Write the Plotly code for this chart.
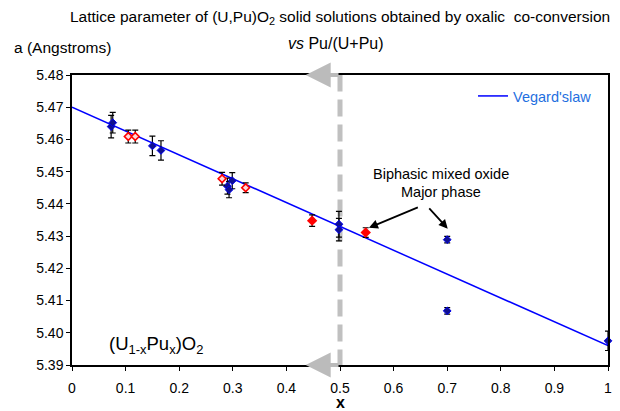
import plotly.graph_objects as go

# Data
vegard_x = [0.0, 1.0]
vegard_y = [5.470, 5.396]

blue_x = [0.073, 0.076, 0.150, 0.166, 0.290, 0.293, 0.299, 0.498, 0.498, 0.700, 0.700, 1.000]
blue_y = [5.4640, 5.4652, 5.4580, 5.4566, 5.4455, 5.4444, 5.4472, 5.4337, 5.4320, 5.4289, 5.4068, 5.3975]
blue_err = [0.0035, 0.0032, 0.0030, 0.0030, 0.0025, 0.0025, 0.0025, 0.0040, 0.0035, 0.0010, 0.0010, 0.0030]

red_open_x = [0.105, 0.118, 0.280, 0.324]
red_open_y = [5.4609, 5.4609, 5.4478, 5.4450]
red_open_err = [0.0020, 0.0020, 0.0020, 0.0015]

red_fill_x = [0.448, 0.548]
red_fill_y = [5.4348, 5.4311]
red_fill_err = [0.0018, 0.0015]

x_ticks = [0, 0.1, 0.2, 0.3, 0.4, 0.5, 0.6, 0.7, 0.8, 0.9, 1]
x_tick_text = ["0", "0.1", "0.2", "0.3", "0.4", "0.5", "0.6", "0.7", "0.8", "0.9", "1"]
y_ticks = [5.39, 5.40, 5.41, 5.42, 5.43, 5.44, 5.45, 5.46, 5.47, 5.48]

FONT = "Liberation Sans, Arial, sans-serif"

fig = go.Figure()

fig.add_trace(go.Scatter(
    x=vegard_x, y=vegard_y, mode="lines", name="Vegard'slaw",
    line=dict(color="#0000ff", width=1.5), showlegend=True))

fig.add_trace(go.Scatter(
    x=blue_x, y=blue_y, mode="markers", showlegend=False,
    marker=dict(symbol="diamond", size=6, color="#101090", line=dict(color="#0000ee", width=1)),
    error_y=dict(type="data", array=blue_err, color="black", thickness=1.2, width=3),
    cliponaxis=False))

fig.add_trace(go.Scatter(
    x=red_open_x, y=red_open_y, mode="markers", showlegend=False,
    marker=dict(symbol="diamond", size=6, color="#ffd8d8", line=dict(color="#ff0000", width=1.6)),
    error_y=dict(type="data", array=red_open_err, color="black", thickness=1.2, width=3),
    cliponaxis=False))

fig.add_trace(go.Scatter(
    x=red_fill_x, y=red_fill_y, mode="markers", showlegend=False,
    marker=dict(symbol="diamond", size=8, color="#ff0000", line=dict(color="#ff0000", width=0)),
    error_y=dict(type="data", array=red_fill_err, color="black", thickness=1.2, width=3),
    cliponaxis=False))

# Vertical dashed gray line at x = 0.5
fig.add_shape(type="line", x0=0.5, x1=0.5, y0=5.3895, y1=5.4807, xref="x", yref="y",
              line=dict(color="#c0c0c0", width=5, dash="17px,8px"), layer="below")

annotations = [
    # gray arrows
    dict(x=0.436, y=5.48, ax=0.5, ay=5.48, xref="x", yref="y", axref="x", ayref="y",
         showarrow=True, arrowhead=2, arrowsize=1.25, arrowwidth=4, arrowcolor="#bbbbbb", text=""),
    dict(x=0.436, y=5.39, ax=0.5, ay=5.39, xref="x", yref="y", axref="x", ayref="y",
         showarrow=True, arrowhead=2, arrowsize=1.25, arrowwidth=4, arrowcolor="#bbbbbb", text=""),
    # black arrows
    dict(x=0.554, y=5.4326, ax=0.648, ay=5.4391, xref="x", yref="y", axref="x", ayref="y",
         showarrow=True, arrowhead=2, arrowsize=1, arrowwidth=1.8, arrowcolor="black", text=""),
    dict(x=0.701, y=5.4323, ax=0.664, ay=5.4391, xref="x", yref="y", axref="x", ayref="y",
         showarrow=True, arrowhead=2, arrowsize=1, arrowwidth=1.8, arrowcolor="black", text=""),
    dict(x=444, y=174, xref="paper", yref="paper", text="Biphasic mixed oxide", showarrow=False,
         font=dict(size=14.5, color="black", family=FONT)),
    dict(x=444, y=192, xref="paper", yref="paper", text="Major phase", showarrow=False,
         font=dict(size=14.5, color="black", family=FONT)),
    dict(x=342, y=18, xref="paper", yref="paper",
         text="Lattice parameter of (U,Pu)O<sub>2</sub> solid solutions obtained by oxalic  co-conversion",
         showarrow=False, font=dict(size=15.5, color="black", family=FONT)),
    dict(x=338, y=44, xref="paper", yref="paper", text="<i>vs</i> Pu/(U+Pu)",
         showarrow=False, font=dict(size=16, color="black", family=FONT)),
    dict(x=12, y=48, xref="paper", yref="paper", text="a (Angstroms)", xanchor="left",
         showarrow=False, font=dict(size=15.5, color="black", family=FONT)),
    dict(x=343, y=402, xref="paper", yref="paper", text="<b>x</b>",
         showarrow=False, font=dict(size=16, color="black", family=FONT)),
    dict(x=107, y=345, xref="paper", yref="paper", text="(U<sub>1-x</sub>Pu<sub>x</sub>)O<sub>2</sub>",
         xanchor="left", showarrow=False, font=dict(size=18.5, color="black", family=FONT)),
]

# convert pixel-placed text annotations to paper coords
W, H = 620, 411
L, R, T, B = 72, 8, 75, 46
pw, ph = W - L - R, H - T - B
for a in annotations:
    if a["xref"] == "paper":
        a["x"] = (a["x"] - L) / pw
        a["y"] = 1 - (a["y"] - T) / ph
        a.setdefault("xanchor", "center")
        a.setdefault("yanchor", "middle")

fig.update_layout(
    width=W, height=H,
    margin=dict(l=L, r=R, t=T, b=B),
    paper_bgcolor="white", plot_bgcolor="white",
    font=dict(family=FONT, size=12, color="black"),
    annotations=annotations,
    showlegend=True,
    legend=dict(x=(476 - L) / pw, y=(1 - (96 - T) / ph), xanchor="left", yanchor="middle",
                bgcolor="rgba(0,0,0,0)", font=dict(color="#1f6fe0", size=14.5, family=FONT),
                itemwidth=30),
    xaxis=dict(range=[0, 1], tickvals=x_ticks, ticktext=x_tick_text, ticks="outside",
               ticklen=4, tickcolor="black", showline=True, linecolor="black", linewidth=1.5,
               mirror=True, showgrid=False, zeroline=False, ticklabelstandoff=5,
               tickfont=dict(size=14, family=FONT)),
    yaxis=dict(range=[5.39, 5.48], tickvals=y_ticks, tickformat=".2f", ticks="outside",
               ticklen=4, tickcolor="black", showline=True, linecolor="black", linewidth=1.5,
               mirror=True, showgrid=False, zeroline=False,
               tickfont=dict(size=14, family=FONT)),
)

fig.write_html("out.html")
